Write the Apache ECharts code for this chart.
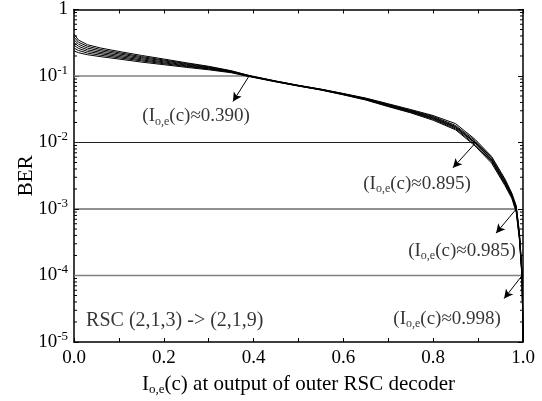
<!DOCTYPE html>
<html>
<head>
<meta charset="utf-8">
<script src="https://cdn.jsdelivr.net/npm/echarts@6/dist/echarts.min.js"></script>
<style>
  html, body { margin: 0; padding: 0; background: #fff; }
  #chart { width: 542px; height: 401px; }
</style>
</head>
<body>
<div id="chart"></div>
<script>
// x positions shared by all curves
const xValues = [0, 0.01, 0.03, 0.06, 0.1, 0.15, 0.2, 0.25, 0.3, 0.35, 0.39, 0.45, 0.5, 0.55, 0.6, 0.65, 0.7, 0.75, 0.8, 0.85, 0.893, 0.93, 0.96, 0.975, 0.985, 0.992, 0.998, 1.0];

// BER curves, RSC memory 3 .. 9 (top at the left to bottom)
const berCurve1 = [0.427, 0.347, 0.295, 0.263, 0.234, 0.204, 0.180, 0.158, 0.140, 0.120, 0.102, 0.0840, 0.0725, 0.0635, 0.0545, 0.0465, 0.0382, 0.0313, 0.0254, 0.0192, 0.0112, 0.00617, 0.00282, 0.00174, 0.00112, 0.000447, 0.000112, 0.00001];
const berCurve2 = [0.387, 0.322, 0.279, 0.250, 0.224, 0.196, 0.174, 0.154, 0.137, 0.119, 0.101, 0.0835, 0.0720, 0.0630, 0.0540, 0.0460, 0.0375, 0.0305, 0.0247, 0.0180, 0.0107, 0.00589, 0.00269, 0.00166, 0.00107, 0.000427, 0.000107, 0.00001];
const berCurve3 = [0.352, 0.300, 0.263, 0.238, 0.215, 0.189, 0.169, 0.150, 0.134, 0.117, 0.1005, 0.0830, 0.0720, 0.0630, 0.0540, 0.0455, 0.0369, 0.0300, 0.0240, 0.0174, 0.0102, 0.00562, 0.00257, 0.00162, 0.00102, 0.000407, 0.000102, 0.00001];
const berCurve4 = [0.319, 0.279, 0.248, 0.226, 0.205, 0.182, 0.163, 0.146, 0.132, 0.116, 0.100, 0.0830, 0.0715, 0.0625, 0.0535, 0.0450, 0.0363, 0.0295, 0.0234, 0.0170, 0.0100, 0.0055, 0.00251, 0.00158, 0.00100, 0.000398, 0.000100, 0.00001];
const berCurve5 = [0.290, 0.260, 0.234, 0.216, 0.196, 0.175, 0.158, 0.142, 0.129, 0.115, 0.0995, 0.0825, 0.0710, 0.0620, 0.0530, 0.0445, 0.0358, 0.0290, 0.0229, 0.0166, 0.0098, 0.00537, 0.00245, 0.00155, 0.00098, 0.000380, 0.000098, 0.00001];
const berCurve6 = [0.263, 0.242, 0.221, 0.205, 0.188, 0.169, 0.153, 0.139, 0.127, 0.114, 0.0990, 0.0820, 0.0710, 0.0620, 0.0525, 0.0440, 0.0352, 0.0285, 0.0223, 0.0160, 0.0093, 0.00513, 0.00234, 0.00151, 0.00093, 0.000363, 0.000093, 0.00001];
const berCurve7 = [0.239, 0.224, 0.209, 0.195, 0.180, 0.162, 0.148, 0.135, 0.124, 0.112, 0.0980, 0.0815, 0.0705, 0.0615, 0.0520, 0.0435, 0.0346, 0.0279, 0.0216, 0.0155, 0.0089, 0.00490, 0.00224, 0.00145, 0.00089, 0.000347, 0.000089, 0.00001];
const curves = [berCurve1, berCurve2, berCurve3, berCurve4, berCurve5, berCurve6, berCurve7];

// reference BER levels and where the curves reach them
const targetBer = [1e-1, 1e-2, 1e-3, 1e-4];
const crossX = [0.39, 0.895, 0.985, 0.998];
const crossText = ['0.390', '0.895', '0.985', '0.998'];
const arrowTips = [[0.354, 0.0413], [0.844, 0.00416], [0.94, 0.000433], [0.958, 0.000045]];
const labelPos = [[0.272, 0.0247], [0.764, 0.0024], [0.864, 0.000234], [0.831, 0.000022]];

const serif = "'Liberation Serif', 'Times New Roman', serif";

const chart = echarts.init(document.getElementById('chart'), null, { renderer: 'canvas' });

const curveSeries = curves.map((vals, i) => ({
  type: 'line',
  name: 'c' + i,
  data: xValues.map((x, j) => [x, vals[j]]),
  showSymbol: false,
  symbol: 'none',
  lineStyle: { color: '#000', width: 1 },
  z: 5,
  silent: true,
}));

const levelSeries = targetBer.map((b, i) => ({
  type: 'line',
  data: [[0, b], [crossX[i], b]],
  showSymbol: false,
  symbol: 'none',
  lineStyle: { color: (i === 0 || i === 3) ? '#808080' : '#222', width: (i === 0 || i === 3) ? 1.6 : 1 },
  z: 3,
  silent: true,
}));

const arrowSeries = {
  type: 'line',
  data: [],
  silent: true,
  markLine: {
    silent: true,
    symbol: ['none', 'arrow'],
    symbolSize: [7, 9],
    lineStyle: { color: '#000', width: 1, type: 'solid' },
    label: { show: false },
    data: targetBer.map((b, i) => [{ coord: [crossX[i], b] }, { coord: arrowTips[i] }]),
  },
};

const labelSeries = {
  type: 'scatter',
  symbolSize: 0,
  silent: true,
  data: labelPos.map((p, i) => ({ value: p, txt: crossText[i] })),
  label: {
    show: true,
    position: 'inside',
    color: '#000',
    formatter: (p) => '{n|(I}{s|o,e}{n|(c)\u2248' + p.data.txt + ')}',
    rich: {
      n: { fontFamily: serif, fontSize: 19, lineHeight: 22, color: '#000' },
      s: { fontFamily: serif, fontSize: 12, lineHeight: 12, verticalAlign: 'bottom', color: '#000' },
    },
  },
  z: 6,
};

const rscSeries = {
  type: 'scatter',
  symbolSize: 0,
  silent: true,
  data: [[0.027, 0.000021]],
  label: {
    show: true,
    position: 'right',
    distance: 0,
    formatter: 'RSC (2,1,3) -> (2,1,9)',
    fontFamily: serif,
    fontSize: 20,
    color: '#000',
  },
};

// minor ticks of the log axis, on the left and right edges
const minorTickValues = [];
for (let e = -5; e < 0; e++) {
  for (let k = 2; k <= 9; k++) minorTickValues.push(k * Math.pow(10, e));
}
const minorTickSeries = {
  type: 'custom',
  silent: true,
  clip: false,
  data: minorTickValues.map(v => [v]),
  renderItem: (params, api) => {
    const v = api.value(0);
    const a = api.coord([0, v]);
    const b = api.coord([1, v]);
    const style = { stroke: '#000', lineWidth: 1 };
    return {
      type: 'group',
      children: [
        { type: 'line', shape: { x1: a[0], y1: a[1], x2: a[0] + 3, y2: a[1] }, style },
        { type: 'line', shape: { x1: b[0] - 3, y1: b[1], x2: b[0], y2: b[1] }, style },
      ],
    };
  },
  encode: { y: 0 },
};

const axisLineStyle = { color: '#000', width: 1.5 };

const option = {
  backgroundColor: '#fff',
  animation: false,
  grid: { left: 74, right: 19, top: 9, bottom: 56 },
  xAxis: [
    {
      type: 'value',
      min: 0,
      max: 1,
      interval: 0.1,
      axisLine: { show: true, onZero: false, lineStyle: axisLineStyle },
      axisTick: { show: true, inside: true, length: 4, lineStyle: { color: '#000' } },
      splitLine: { show: false },
      axisLabel: {
        color: '#000',
        fontFamily: serif,
        fontSize: 19,
        margin: 7,
        formatter: (v) => (Math.round(v * 10) % 2 === 0 ? v.toFixed(1) : ''),
      },
      name: '{n|I}{s|o,e}{n|(c) at output of outer RSC decoder}',
      nameLocation: 'middle',
      nameGap: 31,
      nameMoveOverlap: false,
      nameTextStyle: {
        rich: {
          n: { fontFamily: serif, fontSize: 21, lineHeight: 23, color: '#000' },
          s: { fontFamily: serif, fontSize: 13, lineHeight: 12, verticalAlign: 'bottom', color: '#000' },
        },
      },
    },
    {
      type: 'value',
      position: 'top',
      min: 0,
      max: 1,
      interval: 0.1,
      axisLine: { show: true, onZero: false, lineStyle: axisLineStyle },
      axisTick: { show: true, inside: true, length: 4, lineStyle: { color: '#000' } },
      splitLine: { show: false },
      axisLabel: { show: false },
    },
  ],
  yAxis: [
    {
      type: 'log',
      logBase: 10,
      min: 1e-5,
      max: 1,
      interval: 1,
      axisLine: { show: true, onZero: false, lineStyle: axisLineStyle },
      axisTick: { show: true, inside: true, length: 5, lineStyle: { color: '#000' } },
      splitLine: { show: false },
      axisLabel: {
        color: '#000',
        margin: 6,
        formatter: (v) => {
          const e = Math.round(Math.log10(v));
          return e === 0 ? '{b|1}' : '{b|10}{s|' + e + '}';
        },
        rich: {
          b: { fontFamily: serif, fontSize: 19, lineHeight: 24, color: '#000' },
          s: { fontFamily: serif, fontSize: 13, lineHeight: 13, verticalAlign: 'top', color: '#000' },
        },
      },
      name: 'BER',
      nameLocation: 'middle',
      nameGap: 37,
      nameMoveOverlap: false,
      nameTextStyle: { fontFamily: serif, fontSize: 21, color: '#000' },
    },
    {
      type: 'log',
      logBase: 10,
      position: 'right',
      min: 1e-5,
      max: 1,
      interval: 1,
      axisLine: { show: true, onZero: false, lineStyle: axisLineStyle },
      axisTick: { show: true, inside: true, length: 5, lineStyle: { color: '#000' } },
      splitLine: { show: false },
      axisLabel: { show: false },
    },
  ],
  series: [...levelSeries, ...curveSeries, arrowSeries, labelSeries, rscSeries, minorTickSeries],
};

chart.setOption(option);
</script>
</body>
</html>
